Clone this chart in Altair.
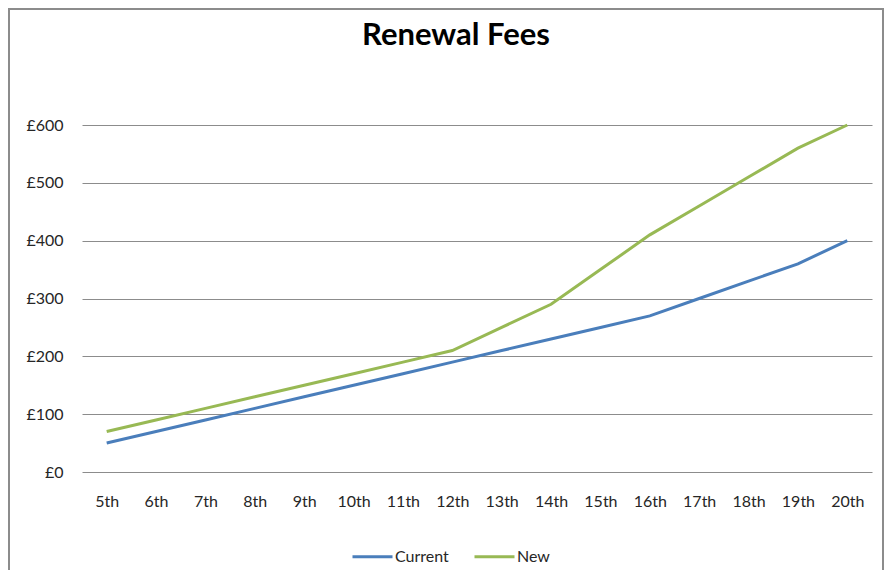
import altair as alt
import pandas as pd

years = ["5th", "6th", "7th", "8th", "9th", "10th", "11th", "12th",
         "13th", "14th", "15th", "16th", "17th", "18th", "19th", "20th"]
current = [50, 70, 90, 110, 130, 150, 170, 190, 210, 230, 250, 270, 300, 330, 360, 400]
new = [70, 90, 110, 130, 150, 170, 190, 210, 250, 290, 350, 410, 460, 510, 560, 600]
series = ["Current", "New"]
colors = ["#4A7EBB", "#98B954"]
y_ticks = [0, 100, 200, 300, 400, 500, 600]
title_text = "Renewal Fees"

df = pd.DataFrame({"Year": years, "Current": current, "New": new})
long = df.melt(id_vars="Year", var_name="Series", value_name="Fee")

FONT = "Lato"
TXT = "#262626"

lines = alt.Chart(long).mark_line(strokeWidth=3, clip=False).encode(
    x=alt.X("Year:N", sort=years, title=None,
            scale=alt.Scale(padding=0.5),
            axis=alt.Axis(labelAngle=0, ticks=False, domain=False, grid=False,
                          labelFontSize=16, labelFont=FONT, labelColor=TXT,
                          labelPadding=21)),
    y=alt.Y("Fee:Q", title=None, scale=alt.Scale(domain=[0, 600], nice=False),
            axis=alt.Axis(values=y_ticks, labelExpr="'£' + datum.value", ticks=False,
                          domain=False, grid=True, gridColor="#8C8C8C", gridWidth=1,
                          labelFontSize=16, labelFont=FONT, labelColor=TXT,
                          labelPadding=19)),
    color=alt.Color("Series:N", scale=alt.Scale(domain=series, range=colors),
                    legend=alt.Legend(title=None, orient="none", legendX=269, legendY=410,
                                      direction="horizontal", symbolType="stroke",
                                      symbolSize=1600, symbolStrokeWidth=3,
                                      labelFontSize=16, labelFont=FONT, labelColor=TXT,
                                      labelOffset=1, columnPadding=19, padding=0)),
)

title = alt.Chart(pd.DataFrame({"t": [title_text]})).mark_text(
    fontSize=31, fontWeight="bold", font=FONT, color="#000000",
    baseline="alphabetic", align="center"
).encode(text="t:N", x=alt.value(374), y=alt.value(-80))

border = alt.Chart(pd.DataFrame({"t": [title_text]})).mark_rect(
    fill=None, stroke="#8C8C8C", strokeWidth=2
).encode(x=alt.value(-73), x2=alt.value(801), y=alt.value(-116), y2=alt.value(480))

chart = alt.layer(border, lines, title).properties(
    width=790, height=347,
    padding={"left": 74, "top": 117, "right": 12, "bottom": 98},
    autosize=alt.AutoSizeParams(type="none"),
).configure_view(stroke=None)

chart.save("out.html", embed_options={"renderer": "svg", "actions": False})
